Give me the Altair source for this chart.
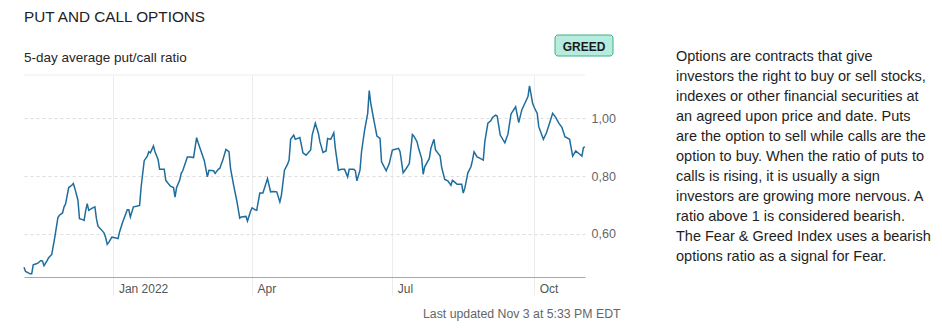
import altair as alt
import pandas as pd

# ---- data ----
dates = [
    "2021-11-04", "2021-11-05", "2021-11-08", "2021-11-09", "2021-11-10", "2021-11-12",
    "2021-11-13", "2021-11-15", "2021-11-16", "2021-11-17", "2021-11-19", "2021-11-20",
    "2021-11-22", "2021-11-24", "2021-11-26", "2021-11-27", "2021-11-29", "2021-11-30",
    "2021-12-01", "2021-12-03", "2021-12-05", "2021-12-06", "2021-12-07", "2021-12-09",
    "2021-12-10", "2021-12-12", "2021-12-13", "2021-12-14", "2021-12-15", "2021-12-16",
    "2021-12-18", "2021-12-20", "2021-12-21", "2021-12-22", "2021-12-24", "2021-12-26",
    "2021-12-27", "2021-12-28", "2021-12-29", "2021-12-31",
    "2022-01-02", "2022-01-04", "2022-01-05", "2022-01-07", "2022-01-10", "2022-01-11",
    "2022-01-12", "2022-01-14", "2022-01-16", "2022-01-18", "2022-01-19", "2022-01-21",
    "2022-01-23", "2022-01-24", "2022-01-25", "2022-01-27", "2022-01-28", "2022-01-30",
    "2022-01-31",
    "2022-02-03", "2022-02-04", "2022-02-06", "2022-02-07", "2022-02-09", "2022-02-10",
    "2022-02-11", "2022-02-13", "2022-02-14", "2022-02-15", "2022-02-18", "2022-02-20",
    "2022-02-22", "2022-02-24", "2022-02-25", "2022-02-27",
    "2022-03-01", "2022-03-03", "2022-03-04", "2022-03-07", "2022-03-08", "2022-03-10",
    "2022-03-11", "2022-03-13", "2022-03-15", "2022-03-17", "2022-03-18", "2022-03-20",
    "2022-03-22", "2022-03-24", "2022-03-25", "2022-03-28", "2022-03-29", "2022-03-31",
    "2022-04-01", "2022-04-03", "2022-04-04", "2022-04-06", "2022-04-08", "2022-04-10",
    "2022-04-11", "2022-04-13", "2022-04-15", "2022-04-17", "2022-04-19", "2022-04-20",
    "2022-04-22", "2022-04-24", "2022-04-25", "2022-04-26", "2022-04-28", "2022-04-29",
    "2022-05-02", "2022-05-04", "2022-05-06", "2022-05-09", "2022-05-10", "2022-05-12",
    "2022-05-14", "2022-05-15", "2022-05-17", "2022-05-19", "2022-05-20", "2022-05-22",
    "2022-05-24", "2022-05-25", "2022-05-27", "2022-05-29", "2022-05-31",
    "2022-06-02", "2022-06-03", "2022-06-06", "2022-06-07", "2022-06-08", "2022-06-10",
    "2022-06-11", "2022-06-13", "2022-06-15", "2022-06-16", "2022-06-17", "2022-06-19",
    "2022-06-21", "2022-06-23", "2022-06-24", "2022-06-27", "2022-06-29",
    "2022-07-01", "2022-07-03", "2022-07-05", "2022-07-06", "2022-07-08", "2022-07-10",
    "2022-07-12", "2022-07-14", "2022-07-15", "2022-07-17", "2022-07-18", "2022-07-20",
    "2022-07-21", "2022-07-22", "2022-07-25", "2022-07-26", "2022-07-28", "2022-07-29",
    "2022-08-01", "2022-08-02", "2022-08-04", "2022-08-06", "2022-08-08", "2022-08-09",
    "2022-08-11", "2022-08-12", "2022-08-15", "2022-08-16", "2022-08-17", "2022-08-19",
    "2022-08-21", "2022-08-22", "2022-08-23", "2022-08-25", "2022-08-27", "2022-08-29",
    "2022-08-30",
    "2022-09-01", "2022-09-03", "2022-09-04", "2022-09-06", "2022-09-07", "2022-09-09",
    "2022-09-12", "2022-09-14", "2022-09-16", "2022-09-19", "2022-09-21", "2022-09-23",
    "2022-09-25", "2022-09-27", "2022-09-28", "2022-09-30",
    "2022-10-01", "2022-10-03", "2022-10-04", "2022-10-07", "2022-10-09", "2022-10-11",
    "2022-10-13", "2022-10-15", "2022-10-17", "2022-10-19", "2022-10-21", "2022-10-24",
    "2022-10-26", "2022-10-28", "2022-10-30",
    "2022-11-01", "2022-11-02", "2022-11-03",
]

ratio = [
    0.484, 0.469, 0.461, 0.461, 0.492, 0.496, 0.498, 0.507, 0.505, 0.489, 0.507, 0.517,
    0.528, 0.588, 0.656, 0.664, 0.672, 0.693,
    0.704, 0.760, 0.768, 0.774, 0.757, 0.716, 0.652, 0.649, 0.646, 0.679, 0.704, 0.681,
    0.688, 0.693, 0.652, 0.626, 0.615, 0.602, 0.586, 0.563, 0.570, 0.588,
    0.586, 0.583, 0.606, 0.640, 0.683, 0.683, 0.658, 0.693, 0.695, 0.698, 0.762, 0.853,
    0.869, 0.884, 0.880, 0.904, 0.884, 0.857, 0.823,
    0.823, 0.785, 0.771, 0.765, 0.760, 0.727, 0.760, 0.785, 0.809, 0.818, 0.866, 0.866,
    0.864, 0.933, 0.915, 0.884,
    0.853, 0.797, 0.820, 0.818, 0.809, 0.823, 0.826, 0.855, 0.892, 0.884, 0.826, 0.768,
    0.716, 0.654, 0.658, 0.660, 0.644, 0.678,
    0.690, 0.683, 0.681, 0.741, 0.741, 0.774, 0.791, 0.745, 0.746, 0.745, 0.710, 0.733,
    0.820, 0.841, 0.855, 0.927, 0.942, 0.927,
    0.933, 0.880, 0.872, 0.890, 0.942, 0.983, 0.948, 0.919, 0.882, 0.887, 0.930, 0.927,
    0.950, 0.896, 0.820, 0.823, 0.823,
    0.797, 0.823, 0.823, 0.818, 0.783, 0.820, 0.884, 0.959, 1.017, 1.096, 1.052, 0.994,
    0.938, 0.930, 0.849, 0.818, 0.843,
    0.890, 0.893, 0.896, 0.884, 0.811, 0.826, 0.843, 0.944, 0.938, 0.919, 0.896, 0.861,
    0.806, 0.832, 0.861, 0.896, 0.927, 0.890,
    0.869, 0.830, 0.788, 0.783, 0.768, 0.785, 0.776, 0.771, 0.771, 0.741, 0.757, 0.811,
    0.832, 0.855, 0.884, 0.866, 0.861, 0.855, 0.919,
    0.983, 0.992, 1.003, 1.011, 1.008, 0.942, 0.915, 0.945, 1.015, 1.040, 0.985, 1.029,
    1.052, 1.075, 1.112, 1.052,
    1.038, 1.017, 0.971, 0.927, 0.950, 0.983, 1.017, 1.003, 0.983, 0.969, 0.936, 0.927,
    0.869, 0.887, 0.878,
    0.869, 0.899, 0.901,
]

tick_months = [1, 4, 7, 10]          # Jan 2022, Apr, Jul, Oct
y_ticks = [0.6, 0.8, 1.0]
y_domain = [0.45, 1.15]

title_text = "PUT AND CALL OPTIONS"
subtitle_text = "5-day average put/call ratio"
badge_text = "GREED"
paragraph_lines = [
    "Options are contracts that give",
    "investors the right to buy or sell stocks,",
    "indexes or other financial securities at",
    "an agreed upon price and date. Puts",
    "are the option to sell while calls are the",
    "option to buy. When the ratio of puts to",
    "calls is rising, it is usually a sign",
    "investors are growing more nervous. A",
    "ratio above 1 is considered bearish.",
    "The Fear & Greed Index uses a bearish",
    "options ratio as a signal for Fear.",
]
updated_text = "Last updated Nov 3 at 5:33 PM EDT"

assert len(dates) == len(ratio)
df = pd.DataFrame({"date": dates, "ratio": ratio})

FONT = "Liberation Sans"
W, H = 561, 202
LINE_COLOR = "#1f6d9c"

x_enc = alt.X(
    "date:T",
    title="",
    scale=alt.Scale(type="utc", nice=False),
    axis=alt.Axis(
        values=[alt.DateTime(year=2022, month=m, date=1, utc=True) for m in tick_months],
        labelExpr="utcFormat(datum.value, utcmonth(datum.value) == 0 ? '%b %Y' : '%b')",
        grid=True,
        gridColor="#ececec",
        gridWidth=1,
        domainColor="#a8a8a8",
        domainWidth=1,
        ticks=True,
        tickColor="#ececec",
        tickSize=18,
        labelAlign="left",
        labelBaseline="top",
        labelOffset=5,
        labelPadding=-11.5,
        labelColor="#555555",
        labelFontSize=12,
        labelFont=FONT,
    ),
)

y_enc = alt.Y(
    "ratio:Q",
    title="",
    scale=alt.Scale(domain=y_domain, nice=False, zero=False),
    axis=alt.Axis(
        orient="right",
        values=y_ticks,
        labelExpr="replace(format(datum.value, '.2f'), '.', ',')",
        grid=True,
        gridColor="#dddddd",
        gridDash=[3, 3],
        domain=False,
        ticks=False,
        labelPadding=6,
        labelColor="#666666",
        labelFontSize=12.5,
        labelFont=FONT,
    ),
)

line = alt.Chart(df).mark_line(color=LINE_COLOR, strokeWidth=1.5).encode(x=x_enc, y=y_enc)

one = alt.Data(values=[{"k": 1}])

top_rule = alt.Chart(one).mark_rule(color="#ececec", strokeWidth=1).encode(
    x=alt.value(0), x2=alt.value(W), y=alt.value(0)
)


def txt(text, x, y, **kw):
    return alt.Chart(one).mark_text(
        font=FONT, align="left", baseline="alphabetic", **kw
    ).encode(x=alt.value(x), y=alt.value(y), text=alt.value(text))


title = txt(title_text, 0, -52.7, fontSize=15.3, color="#222222")
subtitle = txt(subtitle_text, 0, -13, fontSize=13.5, color="#262626")

badge = alt.Chart(one).mark_rect(
    fill="#b6ebe0", stroke="#45ae80", strokeWidth=1, cornerRadius=3
).encode(x=alt.value(531), x2=alt.value(589), y=alt.value(-40), y2=alt.value(-19))
badge_label = alt.Chart(one).mark_text(
    font=FONT, fontSize=12, fontWeight="bold", color="#1a1a1a",
    align="center", baseline="alphabetic",
).encode(x=alt.value(560), y=alt.value(-24.3), text=alt.value(badge_text))

paragraph = alt.Chart(one).mark_text(
    font=FONT, fontSize=14.5, color="#1e1e1e", align="left",
    baseline="alphabetic", lineHeight=20,
).encode(x=alt.value(652), y=alt.value(-14.3), text=alt.value(paragraph_lines))

updated = txt(updated_text, 399, 242.7, fontSize=12.3, color="#666666")

chart = alt.layer(
    top_rule, line, title, subtitle, badge, badge_label, paragraph, updated
).properties(
    width=W,
    height=H,
    padding={"left": 24, "top": 75, "right": 357, "bottom": 53},
    autosize=alt.AutoSizeParams(type="none"),
    background="white",
).configure_view(stroke="transparent")

chart.save("out.html", embed_options={"renderer": "svg", "actions": False})
